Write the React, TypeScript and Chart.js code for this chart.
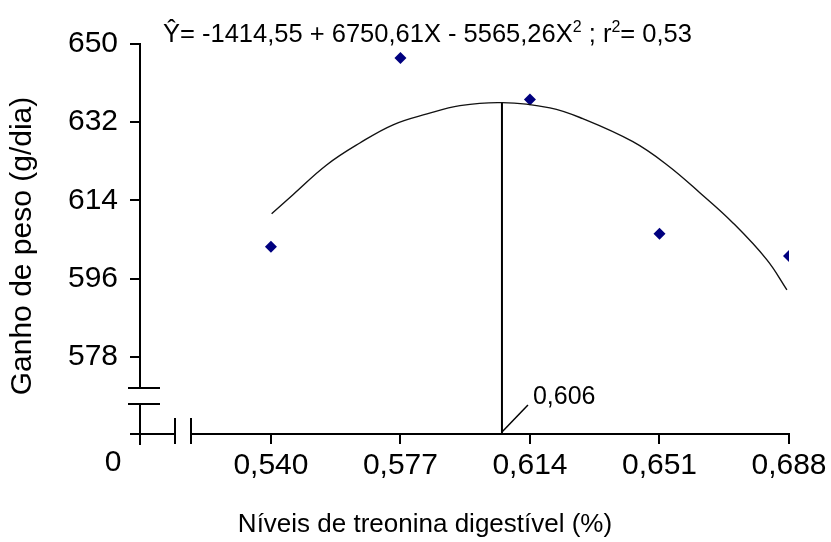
import React, { useEffect, useRef } from "react";
import { Chart, registerables } from "chart.js";

Chart.register(...registerables);

// ---- data ----
const xLevels = [0.54, 0.577, 0.614, 0.651, 0.688];
const gainValues = [603.3, 646.8, 637.2, 606.3, 601.2];

const curveX = [0.5402, 0.5463, 0.556, 0.5654, 0.5749, 0.5846, 0.594, 0.606, 0.6197, 0.6291, 0.6434, 0.6531, 0.6626, 0.672, 0.6817, 0.6874];
const curveY = [610.9, 615.3, 622.2, 627.2, 631.4, 633.9, 635.8, 636.5, 635.3, 632.8, 627.5, 622.2, 615.7, 608.8, 600.3, 593.4];

const xTickValues = [0.54, 0.577, 0.614, 0.651, 0.688];
const yTickValues = [578, 596, 614, 632, 650];

const optimumLevel = 0.606;
const optimumGain = 636.5;
const optimumLabel = "0,606";

const xMin = 0.5026;
const xMax = 0.688;
const yMin = 560.2;
const yMax = 650;

const xTitle = "Níveis de treonina digestível (%)";
const yTitle = "Ganho de peso (g/dia)";
const originLabel = "0";

const FONT = '"Liberation Sans", Arial, sans-serif';

function fmtComma(v: number, d: number) {
  return v.toFixed(d).replace(".", ",");
}

const decorPlugin = {
  id: "decor",
  afterDraw(chart: any) {
    const { ctx, scales } = chart;
    const xs = scales.x;
    const ys = scales.y;
    const ax = Math.round(xs.getPixelForValue(xMin));
    const ay = Math.round(ys.getPixelForValue(yMin));
    ctx.save();
    ctx.strokeStyle = "#000";
    ctx.lineWidth = 2;
    const line = (x1: number, y1: number, x2: number, y2: number) => {
      ctx.beginPath();
      ctx.moveTo(x1, y1);
      ctx.lineTo(x2, y2);
      ctx.stroke();
    };
    // axis extensions
    line(ax - 10, ay, ax, ay);
    line(ax, ay, ax, ay + 11);
    // y-axis break
    ctx.fillStyle = "#fff";
    ctx.fillRect(ax - 3, ay - 45, 6, 15);
    line(ax - 12, ay - 46, ax + 20, ay - 46);
    line(ax - 12, ay - 30, ax + 20, ay - 30);
    // x-axis break
    ctx.fillRect(ax + 36, ay - 3, 14, 6);
    line(ax + 35, ay - 16, ax + 35, ay + 10);
    line(ax + 51, ay - 16, ax + 51, ay + 10);

    // optimum label with leader
    const ox = xs.getPixelForValue(optimumLevel);
    ctx.lineWidth = 1.5;
    line(ox, ay - 2, ox + 26, ay - 29);
    ctx.fillStyle = "#000";
    ctx.font = `25px ${FONT}`;
    ctx.textAlign = "left";
    ctx.textBaseline = "middle";
    ctx.fillText(optimumLabel, ox + 31, ay - 37);

    // origin label
    ctx.font = `30px ${FONT}`;
    ctx.textAlign = "center";
    ctx.fillText(originLabel, 113, 463);

    // axis titles
    ctx.font = `26px ${FONT}`;
    ctx.fillText(xTitle, 425, 525);
    ctx.save();
    ctx.translate(23, 246);
    ctx.rotate(-Math.PI / 2);
    ctx.font = `30px ${FONT}`;
    ctx.fillText(yTitle, 0, 0);
    ctx.restore();

    // equation
    let x = 163;
    const by = 42;
    ctx.textAlign = "left";
    ctx.textBaseline = "alphabetic";
    const seg = (t: string, size: number, dy: number) => {
      ctx.font = `${size}px ${FONT}`;
      ctx.fillText(t, x, by + dy);
      x += ctx.measureText(t).width;
    };
    seg("Ŷ= -1414,55 + 6750,61X - 5565,26X", 25.5, 0);
    seg("2", 16, -10);
    seg(" ; r", 25.5, 0);
    seg("2", 16, -10);
    seg("= 0,53", 25.5, 0);
    ctx.restore();
  },
};

export default function App() {
  const ref = useRef<HTMLCanvasElement>(null);
  useEffect(() => {
    if (!ref.current) return;
    const chart = new Chart(ref.current, {
      type: "scatter",
      data: {
        datasets: [
          {
            label: "curve",
            data: curveX.map((x, i) => ({ x, y: curveY[i] })),
            showLine: true,
            borderColor: "#111",
            borderWidth: 1.4,
            pointRadius: 0,
            tension: 0.4,
          } as any,
          {
            label: "optimum",
            data: [
              { x: optimumLevel, y: yMin },
              { x: optimumLevel, y: optimumGain },
            ],
            showLine: true,
            borderColor: "#000",
            borderWidth: 2,
            pointRadius: 0,
          } as any,
          {
            label: "observed",
            data: xLevels.map((x, i) => ({ x, y: gainValues[i] })),
            pointStyle: "rectRot",
            pointRadius: 6,
            backgroundColor: "#00007f",
            borderColor: "#00007f",
            borderWidth: 0,
          } as any,
        ],
      },
      options: {
        animation: false,
        responsive: false,
        devicePixelRatio: 1,
        layout: { padding: { left: 0, right: 42, top: 44, bottom: 0 } },
        plugins: { legend: { display: false }, tooltip: { enabled: false } },
        scales: {
          x: {
            type: "linear",
            min: xMin,
            max: xMax,
            afterBuildTicks: (s: any) => {
              s.ticks = xTickValues.map((v) => ({ value: v }));
            },
            afterFit: (s: any) => {
              s.height = 108;
            },
            ticks: {
              autoSkip: false,
              maxRotation: 0,
              color: "#000",
              font: { family: FONT, size: 30 },
              padding: 4,
              callback: (v: any) => fmtComma(Number(v), 3),
            },
            grid: { drawOnChartArea: false, drawTicks: true, tickLength: 10, color: "#000", lineWidth: 2 },
            border: { display: true, color: "#000", width: 2 },
          },
          y: {
            type: "linear",
            min: yMin,
            max: yMax,
            afterBuildTicks: (s: any) => {
              s.ticks = yTickValues.map((v) => ({ value: v }));
            },
            afterFit: (s: any) => {
              s.width = 140;
            },
            ticks: {
              autoSkip: false,
              color: "#000",
              font: { family: FONT, size: 30 },
              padding: 12,
              callback: (v: any) => String(v),
            },
            grid: { drawOnChartArea: false, drawTicks: true, tickLength: 10, color: "#000", lineWidth: 2 },
            border: { display: true, color: "#000", width: 2 },
          },
        },
      },
      plugins: [decorPlugin],
    });
    return () => chart.destroy();
  }, []);
  return (
    <div style={{ position: "absolute", left: 0, top: 0, width: 831, height: 542, background: "#fff" }}>
      <canvas ref={ref} width={831} height={542} />
    </div>
  );
}
